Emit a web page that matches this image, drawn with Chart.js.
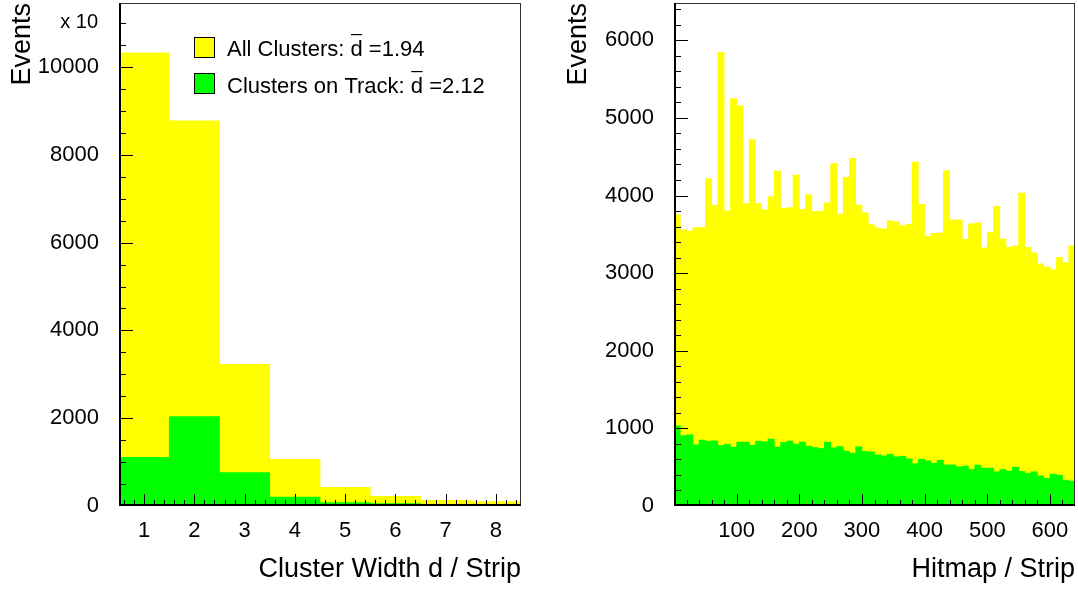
<!DOCTYPE html>
<html><head><meta charset="utf-8">
<script src="https://cdn.jsdelivr.net/npm/chart.js@4.4.1/dist/chart.umd.min.js"></script>
<style>
html,body{margin:0;padding:0;background:#fff;overflow:hidden;}
#wrap{position:relative;width:1078px;height:589px;}
.c{position:absolute;top:0;width:539px;height:589px;}
</style></head><body>
<div id="wrap">
<div class="c" style="left:0"><canvas id="left"></canvas></div>
<div class="c" style="left:539px"><canvas id="right"></canvas></div>
</div>
<script>
// ---------- Left panel: cluster width ----------
const widthBins = [1, 2, 3, 4, 5, 6, 7, 8];
const allClusters = [10322, 8778, 3230, 1064, 426, 220, 129, 99];
const clustersOnTrack = [1110, 2037, 760, 205, 76, 53, 38, 30];
const widthTicks = [1, 2, 3, 4, 5, 6, 7, 8];
const widthCountTicks = [0, 2000, 4000, 6000, 8000, 10000];
const legendLabels = ['All Clusters: d =1.94', 'Clusters on Track: d =2.12'];

// ---------- Right panel: hitmap ----------
const stripBins = [5, 15, 25, 35, 45, 55, 65, 75, 85, 95, 105, 115, 125, 135, 145, 155,
  165, 175, 185, 195, 205, 215, 225, 235, 245, 255, 265, 275, 285, 295, 305, 315,
  325, 335, 345, 355, 365, 375, 385, 395, 405, 415, 425, 435, 445, 455, 465, 475,
  485, 495, 505, 515, 525, 535, 545, 555, 565, 575, 585, 595, 605, 615, 625, 635];
const hitsAll = [3753, 3559, 3542, 3585, 3589, 4217, 3873, 5843, 3800, 5249, 5155, 3895, 4720, 3895, 3817, 3985,
  4316, 3834, 3843, 4264, 3821, 4011, 3791, 3800, 3907, 4411, 3761, 4234, 4479, 3877, 3778, 3624,
  3585, 3568, 3675, 3662, 3611, 3628, 4432, 3886, 3473, 3512, 3520, 4320, 3684, 3688, 3434, 3636,
  3649, 3327, 3529, 3860, 3439, 3331, 3353, 4032, 3331, 3262, 3120, 3082, 3047, 3202, 3133, 3353];
const hitsOnTrack = [1034, 905, 918, 789, 849, 836, 840, 780, 797, 759, 823, 823, 784, 836, 827, 862,
  759, 819, 836, 797, 823, 772, 754, 741, 823, 750, 767, 707, 681, 763, 703, 696,
  659, 646, 668, 634, 642, 608, 544, 603, 581, 551, 590, 530, 530, 505, 514, 471,
  527, 488, 488, 441, 471, 449, 501, 445, 423, 441, 389, 358, 410, 397, 333, 320];
const stripTicks = [100, 200, 300, 400, 500, 600];
const stripCountTicks = [0, 1000, 2000, 3000, 4000, 5000, 6000];

const YELLOW = '#ffff00', GREEN = '#00ff00';
const FONT = "'Liberation Sans', Arial, Helvetica, sans-serif";

const framePlugin = {
  id: 'frameTicks',
  afterDatasetsDraw(chart, args, o) {
    const {ctx, chartArea: {left, right, top, bottom}, scales: {x, y}} = chart;
    ctx.save();
    ctx.strokeStyle = '#000';
    ctx.lineWidth = 1;
    ctx.beginPath();
    for (let v = o.xMin; v <= o.xMax + 1e-9; v += o.xMinorStep) {
      const isMajor = Math.abs(v / o.xMajorStep - Math.round(v / o.xMajorStep)) < 1e-6;
      const px = Math.round(x.getPixelForValue(v)) + 0.5;
      if (px < left + 1 || px > right - 1) continue;
      const len = isMajor ? 12 : 6;
      ctx.moveTo(px, bottom); ctx.lineTo(px, bottom - len);
    }
    for (let v = 0; v <= y.max + 1e-9; v += o.yMinorStep) {
      const isMajor = Math.abs(v / o.yMajorStep - Math.round(v / o.yMajorStep)) < 1e-6;
      const py = Math.round(y.getPixelForValue(v)) + 0.5;
      if (py > bottom - 1 || py < top + 1) continue;
      const len = isMajor ? 14 : 7;
      ctx.moveTo(left, py); ctx.lineTo(left + len, py);
    }
    ctx.stroke();
    ctx.lineWidth = 1;
    ctx.strokeStyle = '#333';
    ctx.strokeRect(Math.round(left) + 0.5, Math.round(top) + 0.5, Math.round(right - left) - 1, Math.round(bottom - top) - 1);
    ctx.strokeStyle = '#000';
    ctx.lineWidth = 2;
    ctx.beginPath();
    ctx.moveTo(Math.round(left) + 1, top); ctx.lineTo(Math.round(left) + 1, bottom);
    ctx.moveTo(left, Math.round(bottom) - 1); ctx.lineTo(right, Math.round(bottom) - 1);
    ctx.stroke();
    ctx.restore();
  }
};

const legendPlugin = {
  id: 'rootLegend',
  afterDraw(chart) {
    const {ctx} = chart;
    ctx.save();
    ctx.font = `22px ${FONT}`;
    ctx.fillStyle = '#000';
    ctx.textBaseline = 'alphabetic';
    const rows = [
      {color: YELLOW, box: 37, base: 56, text: legendLabels[0]},
      {color: GREEN, box: 73, base: 93, text: legendLabels[1]}
    ];
    rows.forEach(r => {
      ctx.fillStyle = r.color;
      ctx.fillRect(194, r.box, 20, 20);
      ctx.strokeStyle = '#000';
      ctx.lineWidth = 1;
      ctx.strokeRect(194.5, r.box + 0.5, 20, 20);
      ctx.fillStyle = '#000';
      ctx.fillText(r.text, 227, r.base);
      const pre = r.text.slice(0, r.text.indexOf(' d ') + 1);
      const x0 = 227 + ctx.measureText(pre).width;
      const wd = ctx.measureText('d').width;
      ctx.fillRect(x0 + 0.5, r.base - 22, wd - 1, 1.2);
    });
    ctx.font = `20px ${FONT}`;
    ctx.textAlign = 'right';
    ctx.fillText('x 10', 98, 28);
    ctx.restore();
  }
};

function makeChart(id, cfg) {
  const tickFont = {family: FONT, size: 22};
  const titleFont = {family: FONT, size: 27};
  return new Chart(document.getElementById(id), {
    type: 'bar',
    data: {
      datasets: [
        {data: cfg.xs.map((v, i) => ({x: v, y: cfg.front[i]})), backgroundColor: GREEN, order: 0,
         barPercentage: 1, categoryPercentage: 1, grouped: false, borderWidth: 0},
        {data: cfg.xs.map((v, i) => ({x: v, y: cfg.back[i]})), backgroundColor: YELLOW, order: 1,
         barPercentage: 1, categoryPercentage: 1, grouped: false, borderWidth: 0}
      ]
    },
    options: {
      responsive: true, maintainAspectRatio: false, animation: false, devicePixelRatio: 1,
      layout: {padding: {top: 3, right: cfg.padRight, left: 0, bottom: 0}},
      plugins: {legend: {display: false}, tooltip: {enabled: false}, frameTicks: cfg.tickOpts},
      scales: {
        x: {
          type: 'linear', min: cfg.xMin, max: cfg.xMax, offset: false,
          grid: {display: false, drawTicks: false}, border: {display: false},
          ticks: {font: tickFont, color: '#000', padding: 12, maxRotation: 0, autoSkip: false,
                  callback: v => String(v)},
          afterBuildTicks: s => { s.ticks = cfg.xTicks.map(v => ({value: v})); },
          afterFit: s => { s.height = 83; s.paddingLeft = 0; s.paddingRight = 0; },
          title: {display: true, text: cfg.xTitle, align: 'end', font: titleFont, color: '#000', padding: {top: 0, bottom: 3}}
        },
        y: {
          type: 'linear', min: 0, max: cfg.yMax,
          grid: {display: false, drawTicks: false}, border: {display: false},
          ticks: {font: tickFont, color: '#000', padding: 20, autoSkip: false,
                  callback: v => String(v)},
          afterBuildTicks: s => { s.ticks = cfg.yTicks.map(v => ({value: v})); },
          afterFit: s => { s.width = cfg.yAxisWidth; s.paddingTop = 0; s.paddingBottom = 0; },
          title: {display: true, text: 'Events', align: 'end', font: titleFont, color: '#000', padding: {top: cfg.yTitlePad, bottom: 0}}
        }
      }
    },
    plugins: cfg.plugins
  });
}

makeChart('left', {
  xs: widthBins, back: allClusters, front: clustersOnTrack,
  xMin: 0.5, xMax: 8.5, yMax: 11460, xTicks: widthTicks, yTicks: widthCountTicks,
  xTitle: 'Cluster Width d / Strip', yAxisWidth: 119, padRight: 18, yTitlePad: 6,
  tickOpts: {xMin: 0.6, xMax: 8.4, xMinorStep: 0.2, xMajorStep: 1, yMinorStep: 500, yMajorStep: 2000},
  plugins: [framePlugin, legendPlugin]
});

makeChart('right', {
  xs: stripBins, back: hitsAll, front: hitsOnTrack,
  xMin: 0, xMax: 640, yMax: 6480, xTicks: stripTicks, yTicks: stripCountTicks,
  xTitle: 'Hitmap / Strip', yAxisWidth: 135, padRight: 3, yTitlePad: 23,
  tickOpts: {xMin: 20, xMax: 620, xMinorStep: 20, xMajorStep: 100, yMinorStep: 200, yMajorStep: 1000},
  plugins: [framePlugin]
});
</script>
</body></html>
